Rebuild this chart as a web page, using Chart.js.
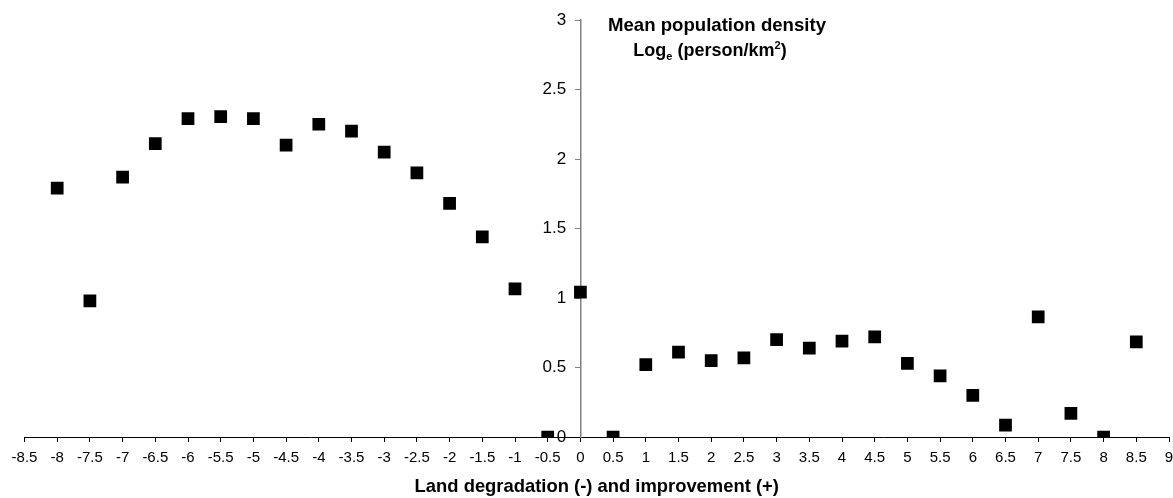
<!DOCTYPE html>
<html>
<head>
<meta charset="utf-8">
<script src="https://cdn.jsdelivr.net/npm/chart.js@4/dist/chart.umd.min.js"></script>
<style>
    html, body { margin: 0; background: #ffffff; overflow: hidden; }
    #wrap { position: relative; width: 1178px; height: 498px; }
    #wrap canvas { display: block; }
    .ytitle {
        position: absolute;
        width: 400px;
        text-align: center;
        font-family: "Liberation Sans", Arial, sans-serif;
        font-weight: bold;
        font-size: 18.6px;
        line-height: 20px;
        color: #000;
        white-space: nowrap;
    }
    .ytitle span { position: relative; font-size: 11px; vertical-align: baseline; }
</style>
</head>
<body>
<div id="wrap">
    <canvas id="scatterChart"></canvas>
    <div class="ytitle" style="top: 15px; left: 517px;">Mean population density</div>
    <div class="ytitle" style="top: 40px; left: 510px; font-size: 18px;">Log<span style="top: 4px;">e</span> (person/km<span style="top: -7px;">2</span>)</div>
</div>

<script>

// ---------------------------
// Data
// ---------------------------

const changeScores = [
    -8, -7.5, -7, -6.5, -6, -5.5, -5, -4.5, -4, -3.5, -3, -2.5, -2, -1.5, -1, -0.5,
    0, 0.5, 1, 1.5, 2, 2.5, 3, 3.5, 4, 4.5, 5, 5.5, 6, 6.5, 7, 7.5, 8, 8.5
];

const logDensity = [
    1.79, 0.98, 1.87, 2.11, 2.29, 2.305, 2.29, 2.10, 2.25, 2.20, 2.05, 1.90, 1.68, 1.44, 1.065, 0,
    1.043, 0, 0.52, 0.61, 0.55, 0.57, 0.70, 0.64, 0.69, 0.72, 0.53, 0.44, 0.30, 0.085, 0.865, 0.17, 0, 0.685
];

const xMin = -8.5;
const xMax = 9;
const yMin = 0;
const yMax = 3;

const points = changeScores.map(function(x, i){
    return { x: x, y: logDensity[i] };
});


// ---------------------------
// Chart
// ---------------------------

const fontFamily = "'Liberation Sans', Arial, sans-serif";

new Chart(document.getElementById("scatterChart"), {

    type: "scatter",

    data: {

        datasets: [{

            label: "Mean population density",

            data: points,

            pointStyle: "rect",
            pointRadius: 9,
            pointHoverRadius: 9,
            pointBackgroundColor: "#000000",
            pointBorderColor: "#000000",
            pointBorderWidth: 0

        }]

    },

    options: {

        responsive: true,
        maintainAspectRatio: false,
        animation: false,

        layout: {
            padding: { left: 24.5, right: 0, top: 20, bottom: 0 }
        },

        plugins: {
            legend: { display: false },
            tooltip: { enabled: false }
        },

        scales: {

            x: {
                type: "linear",
                position: "bottom",
                min: xMin,
                max: xMax,
                afterFit: function(scale){
                    // fixed band below the plot, edge labels may overhang the padding
                    scale.height = 61;
                    scale.paddingLeft = 0;
                    scale.paddingRight = 0;
                },
                ticks: {
                    stepSize: 0.5,
                    autoSkip: false,
                    maxRotation: 0,
                    padding: 7,
                    color: "#000000",
                    font: { family: fontFamily, size: 15 },
                    callback: function(value){
                        return String(Number(value));
                    }
                },
                grid: {
                    drawOnChartArea: false,
                    drawTicks: true,
                    tickLength: 5,
                    color: "#000000"
                },
                border: { color: "#000000", width: 1 },
                title: {
                    display: true,
                    text: "Land degradation (-) and improvement (+)",
                    color: "#000000",
                    padding: { top: 0, bottom: 0 },
                    font: { family: fontFamily, size: 18.4, weight: "bold" }
                }
            },

            y: {
                type: "linear",
                position: { x: 0 },
                min: yMin,
                max: yMax,
                ticks: {
                    stepSize: 0.5,
                    color: "#000000",
                    font: { family: fontFamily, size: 17 },
                    callback: function(value){
                        // centred axis ignores tick padding, so pad with spaces
                        return String(Number(value)) + "   ";
                    }
                },
                grid: {
                    drawOnChartArea: false,
                    drawTicks: true,
                    tickLength: 5,
                    color: "#808080"
                },
                border: { color: "#808080", width: 1.5 }
            }

        }

    }

});

</script>
</body>
</html>
